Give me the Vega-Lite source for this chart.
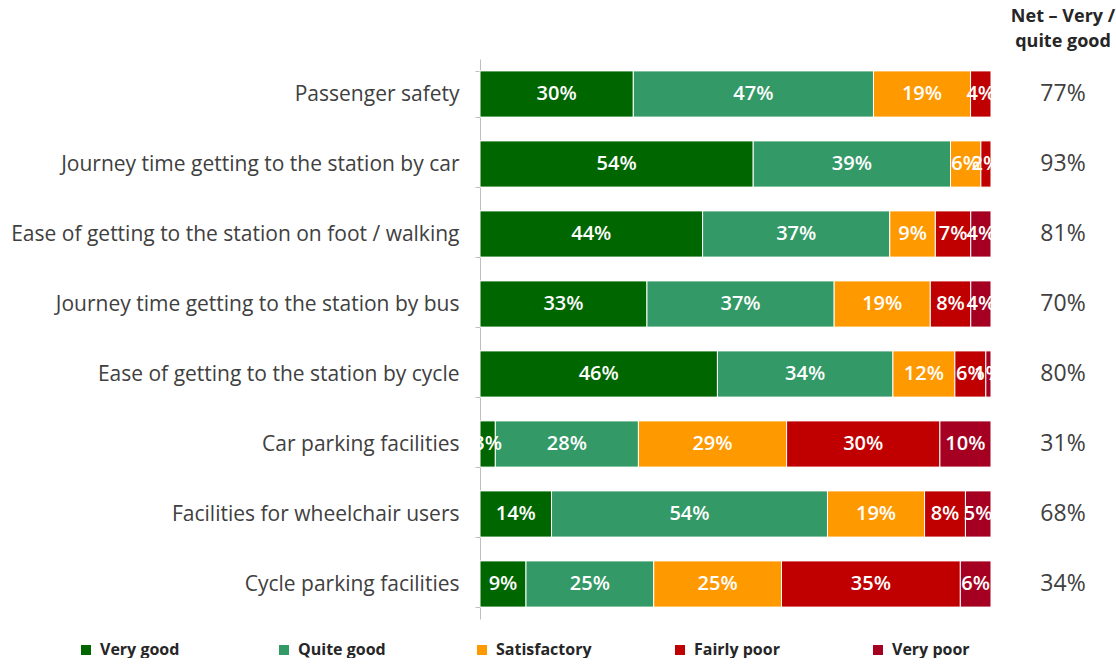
{
  "$schema": "https://vega.github.io/schema/vega-lite/v6.json",
  "background": "white",
  "padding": {"left": 6, "top": 8, "right": 0, "bottom": 0},
  "spacing": 0,
  "config": {"view": {"stroke": null}, "font": "Open Sans"},
  "datasets": {
    "ratings": [
      {"category": "Passenger safety", "rating": "Very good", "value": 0.30},
      {"category": "Passenger safety", "rating": "Quite good", "value": 0.47},
      {"category": "Passenger safety", "rating": "Satisfactory", "value": 0.19},
      {"category": "Passenger safety", "rating": "Fairly poor", "value": 0.04},
      {"category": "Journey time getting to the station by car", "rating": "Very good", "value": 0.54},
      {"category": "Journey time getting to the station by car", "rating": "Quite good", "value": 0.39},
      {"category": "Journey time getting to the station by car", "rating": "Satisfactory", "value": 0.06},
      {"category": "Journey time getting to the station by car", "rating": "Fairly poor", "value": 0.02},
      {"category": "Ease of getting to the station on foot / walking", "rating": "Very good", "value": 0.44},
      {"category": "Ease of getting to the station on foot / walking", "rating": "Quite good", "value": 0.37},
      {"category": "Ease of getting to the station on foot / walking", "rating": "Satisfactory", "value": 0.09},
      {"category": "Ease of getting to the station on foot / walking", "rating": "Fairly poor", "value": 0.07},
      {"category": "Ease of getting to the station on foot / walking", "rating": "Very poor", "value": 0.04},
      {"category": "Journey time getting to the station by bus", "rating": "Very good", "value": 0.33},
      {"category": "Journey time getting to the station by bus", "rating": "Quite good", "value": 0.37},
      {"category": "Journey time getting to the station by bus", "rating": "Satisfactory", "value": 0.19},
      {"category": "Journey time getting to the station by bus", "rating": "Fairly poor", "value": 0.08},
      {"category": "Journey time getting to the station by bus", "rating": "Very poor", "value": 0.04},
      {"category": "Ease of getting to the station by cycle", "rating": "Very good", "value": 0.46},
      {"category": "Ease of getting to the station by cycle", "rating": "Quite good", "value": 0.34},
      {"category": "Ease of getting to the station by cycle", "rating": "Satisfactory", "value": 0.12},
      {"category": "Ease of getting to the station by cycle", "rating": "Fairly poor", "value": 0.06},
      {"category": "Ease of getting to the station by cycle", "rating": "Very poor", "value": 0.01},
      {"category": "Car parking facilities", "rating": "Very good", "value": 0.03},
      {"category": "Car parking facilities", "rating": "Quite good", "value": 0.28},
      {"category": "Car parking facilities", "rating": "Satisfactory", "value": 0.29},
      {"category": "Car parking facilities", "rating": "Fairly poor", "value": 0.30},
      {"category": "Car parking facilities", "rating": "Very poor", "value": 0.10},
      {"category": "Facilities for wheelchair users", "rating": "Very good", "value": 0.14},
      {"category": "Facilities for wheelchair users", "rating": "Quite good", "value": 0.54},
      {"category": "Facilities for wheelchair users", "rating": "Satisfactory", "value": 0.19},
      {"category": "Facilities for wheelchair users", "rating": "Fairly poor", "value": 0.08},
      {"category": "Facilities for wheelchair users", "rating": "Very poor", "value": 0.05},
      {"category": "Cycle parking facilities", "rating": "Very good", "value": 0.09},
      {"category": "Cycle parking facilities", "rating": "Quite good", "value": 0.25},
      {"category": "Cycle parking facilities", "rating": "Satisfactory", "value": 0.25},
      {"category": "Cycle parking facilities", "rating": "Fairly poor", "value": 0.35},
      {"category": "Cycle parking facilities", "rating": "Very poor", "value": 0.06}
    ],
    "net": [
      {"category": "Passenger safety", "net": 0.77},
      {"category": "Journey time getting to the station by car", "net": 0.93},
      {"category": "Ease of getting to the station on foot / walking", "net": 0.81},
      {"category": "Journey time getting to the station by bus", "net": 0.70},
      {"category": "Ease of getting to the station by cycle", "net": 0.80},
      {"category": "Car parking facilities", "net": 0.31},
      {"category": "Facilities for wheelchair users", "net": 0.68},
      {"category": "Cycle parking facilities", "net": 0.34}
    ]
  },
  "hconcat": [
    {
      "width": 511,
      "height": 560,
      "data": {"name": "ratings"},
      "transform": [
        {"stack": "value", "groupby": ["category"], "offset": "normalize", "as": ["x0", "x1"]},
        {"calculate": "(datum.x0 + datum.x1) / 2", "as": "mid"}
      ],
      "encoding": {
        "y": {
          "field": "category",
          "type": "nominal",
          "sort": ["Passenger safety", "Journey time getting to the station by car", "Ease of getting to the station on foot / walking", "Journey time getting to the station by bus", "Ease of getting to the station by cycle", "Car parking facilities", "Facilities for wheelchair users", "Cycle parking facilities"],
          "scale": {"paddingInner": 0.34, "paddingOuter": 0.17},
          "axis": {
            "title": null,
            "minExtent": 474,
            "maxExtent": 474,
            "tickBand": "extent",
            "tickSize": 5,
            "tickColor": "#bfbfbf",
            "domainColor": "#bfbfbf",
            "labelFontSize": 21,
            "labelColor": "#404040",
            "labelPadding": 16,
            "labelLimit": 480
          }
        }
      },
      "layer": [
        {
          "mark": {"type": "bar", "stroke": "white", "strokeWidth": 1},
          "encoding": {
            "x": {"field": "x0", "type": "quantitative", "scale": {"domain": [0, 1]}, "axis": null},
            "x2": {"field": "x1"},
            "color": {
              "field": "rating",
              "type": "nominal",
              "scale": {
                "domain": ["Very good", "Quite good", "Satisfactory", "Fairly poor", "Very poor"],
                "range": ["#006600", "#339966", "#ff9900", "#c00000", "#a50021"]
              },
              "legend": {
                "title": null,
                "orient": "none",
                "legendX": -402,
                "legendY": 583,
                "direction": "horizontal",
                "columns": 5,
                "gridAlign": "all",
                "columnPadding": 80,
                "symbolType": "square",
                "symbolSize": 100,
                "symbolStrokeWidth": 0,
                "labelOffset": 6,
                "labelFontSize": 16,
                "labelFontWeight": "bold",
                "labelColor": "#262626"
              }
            }
          }
        },
        {
          "mark": {"type": "text", "color": "white", "fontSize": 20, "fontWeight": 600},
          "encoding": {
            "x": {"field": "mid", "type": "quantitative"},
            "text": {"field": "value", "format": ".0%"}
          }
        }
      ]
    },
    {
      "width": 120,
      "height": 560,
      "data": {"name": "net"},
      "title": {
        "text": ["Net – Very /", "quite good"],
        "fontSize": 18,
        "fontWeight": "bold",
        "anchor": "middle",
        "color": "#262626",
        "lineHeight": 25,
        "offset": 8
      },
      "mark": {"type": "text", "fontSize": 23, "color": "#404040"},
      "encoding": {
        "y": {
          "field": "category",
          "type": "nominal",
          "sort": ["Passenger safety", "Journey time getting to the station by car", "Ease of getting to the station on foot / walking", "Journey time getting to the station by bus", "Ease of getting to the station by cycle", "Car parking facilities", "Facilities for wheelchair users", "Cycle parking facilities"],
          "scale": {"paddingInner": 0.34, "paddingOuter": 0.17},
          "axis": null
        },
        "text": {"field": "net", "format": ".0%"}
      }
    }
  ]
}
